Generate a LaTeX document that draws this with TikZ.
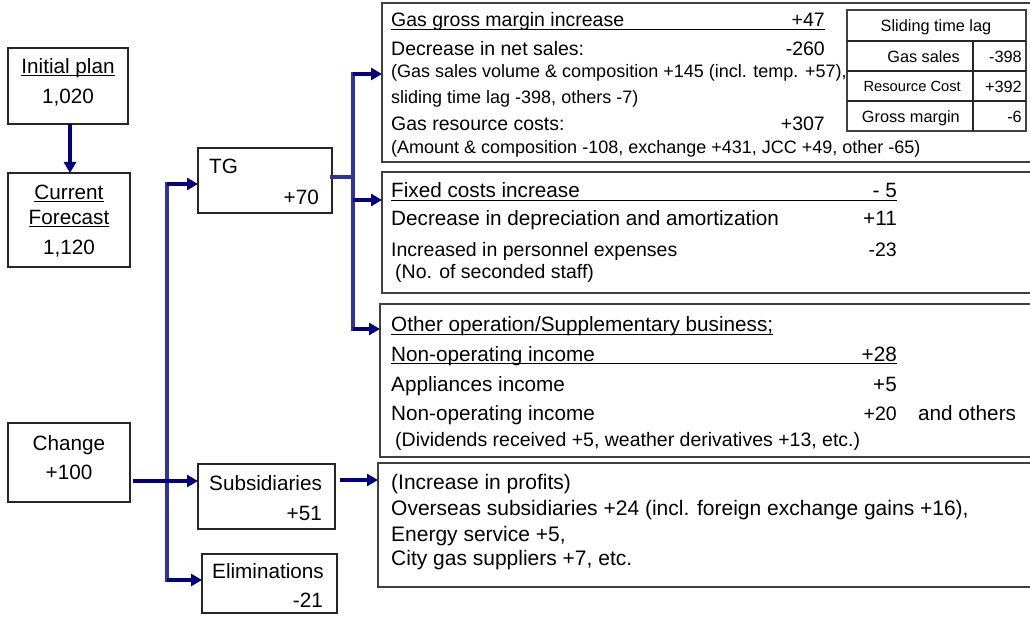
\documentclass[tikz,border=0pt]{standalone}
\usepackage{fontspec}
\setmainfont{Liberation Sans}
\usetikzlibrary{arrows.meta}
\definecolor{navy}{HTML}{000080}
\definecolor{trunkc}{HTML}{3333A0}
\newcommand\fL{\fontsize{20.7}{24}\selectfont}
\newcommand\fM{\fontsize{20.7}{24}\selectfont}
\newcommand\fN{\fontsize{21}{24}\selectfont}
\newcommand\fB{\fontsize{19.5}{23}\selectfont}
\newcommand\fS{\fontsize{18}{22}\selectfont}
\newcommand\fT{\fontsize{16.3}{19}\selectfont}
\newcommand\fTs{\fontsize{14.7}{18}\selectfont}
\begin{document}
\begin{tikzpicture}[x=1pt,y=-1pt,
  box/.style={draw=black!85, line width=1.2pt, anchor=north west, inner sep=0pt, outer sep=0pt},
  rbox/.style={draw=black!75, line width=1.2pt, anchor=north west, inner sep=0pt, outer sep=0pt},
  txt/.style={inner sep=0pt, anchor=base west},
  txtr/.style={inner sep=0pt, anchor=base east},
  txtc/.style={inner sep=0pt, anchor=base},
  arr/.style={draw=navy, line width=4pt, -{Triangle[length=11pt,width=12pt]}},
  trk/.style={draw=trunkc, line width=4pt, line cap=rect},
  ul/.style={line width=1pt},
  tline/.style={draw=black!85, line width=1.2pt}]
\clip (0,0) rectangle (1030,617);
\fill[white] (0,0) rectangle (1030,617);

% left boxes
\node[box, minimum width=120, minimum height=76] (init) at (8,48) {};
\node[box, minimum width=122, minimum height=94] (cur) at (8,173) {};
\node[box, minimum width=122, minimum height=79] (chg) at (8,423) {};
\node[box, minimum width=134, minimum height=65] (tg) at (198,148) {};
\node[box, minimum width=137, minimum height=65] (subs) at (198,464) {};
\node[box, minimum width=135, minimum height=59] (elim) at (202,554) {};

\node[txtc, font=\fL] (ip) at (68,74) {Initial plan};
\draw[ul] ([yshift=-1.8pt]ip.base west) -- ([yshift=-1.8pt]ip.base east);
\node[txtc, font=\fL] (ipv) at (68,104) {1,020};
\node[txtc, font=\fL] (cf1) at (69,200) {Current};
\draw[ul] ([yshift=-1.8pt]cf1.base west) -- ([yshift=-1.8pt]cf1.base east);
\node[txtc, font=\fL] (cf2) at (69,225) {Forecast};
\draw[ul] ([yshift=-1.8pt]cf2.base west) -- ([yshift=-1.8pt]cf2.base east);
\node[txtc, font=\fL] (cfv) at (69,255) {1,120};
\node[txtc, font=\fL] (ch1) at (69,450) {Change};
\node[txtc, font=\fL] (ch2) at (69,479) {+100};
\node[txt, font=\fL] (tg1) at (209,174) {TG};
\node[txtr, font=\fL] (tg2) at (319,205) {+70};
\node[txt, font=\fL] (sb1) at (209,490) {Subsidiaries};
\node[txtr, font=\fL] (sb2) at (322,520) {+51};
\node[txtc, font=\fL] (el1) at (268,578) {Eliminations};
\node[txtr, font=\fL] (el2) at (323,607) {-21};

% right boxes
\node[rbox, minimum width=700, minimum height=159] (b1) at (382,3) {};
\node[rbox, minimum width=700, minimum height=121] (b2) at (382,172) {};
\node[rbox, minimum width=700, minimum height=153] (b3) at (380,304) {};
\node[rbox, minimum width=700, minimum height=124] (b4) at (378,463) {};

% box 1
\node[txt, font=\fB] (g1) at (391,27) {Gas gross margin increase};
\node[txtr, font=\fB] (g1v) at (825,27) {+47};
\draw[ul] ([yshift=-2.2pt]g1.base west) -- ([yshift=-2.2pt]g1v.base east);
\node[txt, font=\fB] (g2) at (391,56) {Decrease in net sales:};
\node[txtr, font=\fB] (g2v) at (825,56) {-260};
\node[txt, font=\fS] (g3) at (391,78) {(Gas sales volume \& composition +145 (incl. temp. +57),};
\node[txt, font=\fS] (g4) at (391,104) {sliding time lag -398, others -7)};
\node[txt, font=\fB] (g5) at (391,131) {Gas resource costs:};
\node[txtr, font=\fB] (g5v) at (825,131) {+307};
\node[txt, font=\fS] (g6) at (391,154) {(Amount \& composition -108, exchange +431, JCC +49, other -65)};

% table
\node[rbox, fill=white, minimum width=179, minimum height=121] (tab) at (847,10) {};
\draw[tline] (847,41) -- (1026,41);
\draw[tline] (847,71) -- (1026,71);
\draw[tline] (847,101) -- (1026,101);
\draw[tline] (973,41) -- (973,131);
\node[txtc, font=\fT] (th) at (936,32) {Sliding time lag};
\node[txtr, font=\fT] (ta1) at (960,63) {Gas sales};
\node[txtr, font=\fT] (ta2) at (1022,63) {-398};
\node[txtr, font=\fTs] (tb1) at (961,92) {Resource Cost};
\node[txtr, font=\fT] (tb2) at (1022,93) {+392};
\node[txtr, font=\fT] (tc1) at (960,123) {Gross margin};
\node[txtr, font=\fT] (tc2) at (1022,123) {-6};

% box 2
\node[txt, font=\fM] (f1) at (391,198) {Fixed costs increase};
\node[txtr, font=\fM] (f1v) at (897,198) {- 5};
\draw[ul] ([yshift=-2.2pt]f1.base west) -- ([yshift=-2.2pt]f1v.base east);
\node[txt, font=\fM] (f2) at (391,226) {Decrease in depreciation and amortization};
\node[txtr, font=\fM] (f2v) at (897,226) {+11};
\node[txt, font=\fB] (f3) at (391,257) {Increased in personnel expenses};
\node[txtr, font=\fB] (f3v) at (897,257) {-23};
\node[txt, font=\fB] (f4) at (395,279) {(No. of seconded staff)};

% box 3
\node[txt, font=\fM] (o1) at (391,332) {Other operation/Supplementary business;};
\draw[ul] ([yshift=-2.2pt]o1.base west) -- ([yshift=-2.2pt]o1.base east);
\node[txt, font=\fM] (o2) at (391,361) {Non-operating income};
\node[txtr, font=\fM] (o2v) at (897,361) {+28};
\draw[ul] ([yshift=-2.2pt]o2.base west) -- ([yshift=-2.2pt]o2v.base east);
\node[txt, font=\fM] (o3) at (391,391) {Appliances income};
\node[txtr, font=\fM] (o3v) at (897,391) {+5};
\node[txt, font=\fM] (o4) at (391,420) {Non-operating income};
\node[txtr, font=\fB] (o4v) at (897,420) {+20};
\node[txt, font=\fM] (o5) at (918,420) {and others};
\node[txt, font=\fB] (o6) at (395,446) {(Dividends received +5, weather derivatives +13, etc.)};

% box 4
\node[txt, font=\fN] (p1) at (391,489) {(Increase in profits)};
\node[txt, font=\fN] (p2) at (391,515) {Overseas subsidiaries +24 (incl. foreign exchange gains +16),};
\node[txt, font=\fN] (p3) at (391,541) {Energy service +5,};
\node[txt, font=\fN] (p4) at (391,565) {City gas suppliers +7, etc.};

% connectors
\draw[arr] ([xshift=2pt]init.south) -- ([xshift=2pt]init.south |- cur.north);

\coordinate (ja) at (167,184);
\coordinate (jb) at (167,580);
\draw[trk] (ja) -- (jb);
\draw[arr] (ja) -- (ja -| tg.west);
\draw[arr] (jb) -- (jb -| elim.west);
\coordinate (c1) at (133,481);
\draw[arr] (c1) -- (c1 -| subs.west);

\coordinate (k0) at (353,177);
\coordinate (k1) at (353,74);
\coordinate (k2) at (353,200);
\coordinate (k3) at (353,329);
\draw[trk] (tg.east |- k0) -- (k0);
\draw[trk] (k1) -- (k3);
\draw[arr] (k1) -- (k1 -| b1.west);
\draw[arr] (k2) -- (k2 -| b2.west);
\draw[arr] (k3) -- (k3 -| b3.west);

\coordinate (s1) at (340,480);
\draw[arr] (s1) -- (s1 -| b4.west);
\end{tikzpicture}
\end{document}
